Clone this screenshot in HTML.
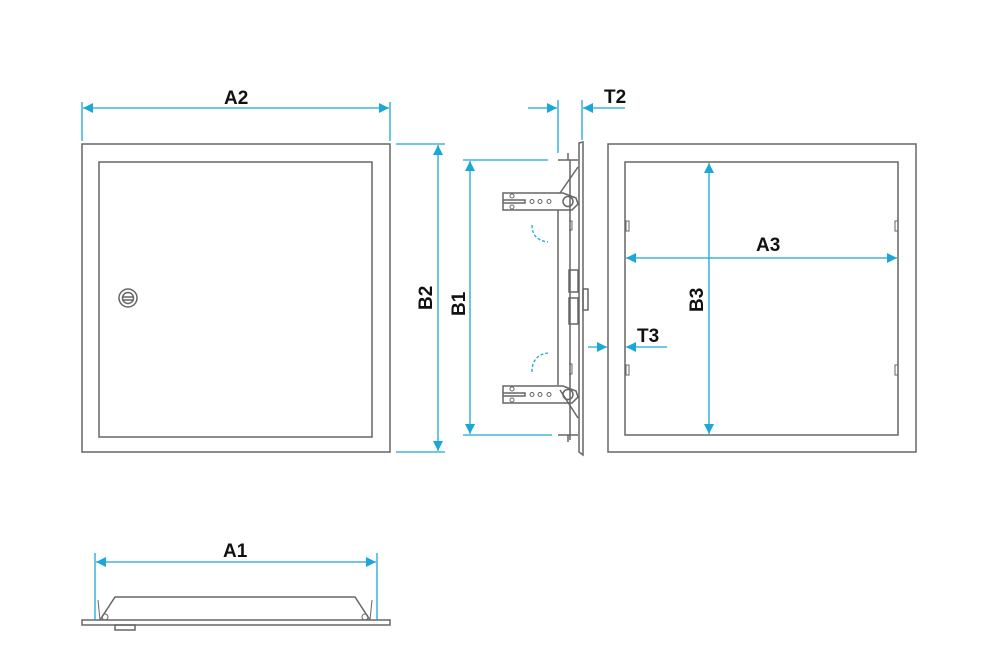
<!DOCTYPE html>
<html><head><style>body{margin:0;background:#fff}svg{display:block}text{font-family:"Liberation Sans",sans-serif;font-weight:bold;font-size:19px;fill:#111}</style></head>
<body>
<svg width="1000" height="668" viewBox="0 0 1000 668" xmlns="http://www.w3.org/2000/svg">
<defs>
<marker id="a" viewBox="0 0 10 10" refX="10" refY="5" markerWidth="16" markerHeight="10" markerUnits="userSpaceOnUse" orient="auto-start-reverse"><path d="M0,0 L10,5 L0,10 z" fill="#1ba8d8"/></marker>
</defs>
<g fill="none" stroke="#666" stroke-width="1.5">
<rect x="82" y="144" width="308" height="308"/>
<rect x="99" y="162" width="273" height="275"/>
<circle cx="128" cy="298" r="9"/><circle cx="128" cy="298" r="5.5"/>
<line x1="123" y1="297" x2="133" y2="297"/><line x1="123" y1="300" x2="133" y2="300"/>
<rect x="608" y="144" width="308" height="308"/>
<rect x="625" y="162" width="273" height="273"/>
<rect x="626" y="221" width="3" height="10" stroke-width="1"/><rect x="626" y="365" width="3" height="10" stroke-width="1"/>
<rect x="895" y="221" width="3" height="10" stroke-width="1"/><rect x="895" y="365" width="3" height="10" stroke-width="1"/>
<path d="M579,143 L583,142 L583,455 L579,452 Z"/>
<line x1="558" y1="210" x2="558" y2="385"/>
<line x1="570" y1="160" x2="570" y2="440"/>
<path d="M558,160 L578,160 M568,153 L568,160 M558,435 L578,435 M568,435 L568,442"/>
<path d="M560,193 L578,167 M560,390 L578,418"/>
<g id="br">
<path d="M503,193 L563,193 L576,198 L578,204 L572,210 L503,210 Z"/>
<path d="M503,200 L525,200 L525,203 L503,203"/>
<circle cx="512" cy="196" r="2" stroke-width="1"/><circle cx="512" cy="207" r="2" stroke-width="1"/>
<circle cx="532" cy="201.5" r="2" stroke-width="1"/><circle cx="540" cy="201.5" r="2" stroke-width="1"/><circle cx="549" cy="201.5" r="2" stroke-width="1"/>
<circle cx="568" cy="201.5" r="5"/>
</g>
<use href="#br" transform="translate(0,193)"/>
<path d="M569,221 L572,221 L572,230 L569,230 M569,364 L572,364 L572,374 L569,374" stroke-width="1"/>
<rect x="569" y="270" width="9" height="22"/><rect x="569" y="298" width="9" height="26"/>
<rect x="583" y="289" width="5" height="21"/>
<path d="M82,620 L390,620 L390,625 L82,625 Z"/>
<rect x="115" y="625" width="20" height="5"/>
<path d="M100,620 L115,597 L355,597 L370,620"/>
<path d="M98,600 L100,620 M372,600 L370,620" stroke-width="1"/>
<circle cx="105" cy="617" r="3" stroke-width="1"/><circle cx="365" cy="617" r="3" stroke-width="1"/>
</g>
<g stroke="#1ba8d8" stroke-width="1.3" fill="none">
<line x1="82" y1="102" x2="82" y2="141"/><line x1="390" y1="102" x2="390" y2="141"/>
<line x1="83" y1="108" x2="389" y2="108" marker-start="url(#a)" marker-end="url(#a)"/>
<line x1="396" y1="144" x2="445" y2="144"/><line x1="396" y1="452" x2="445" y2="452"/>
<line x1="438" y1="145" x2="438" y2="451" marker-start="url(#a)" marker-end="url(#a)"/>
<line x1="463" y1="160" x2="548" y2="160"/><line x1="463" y1="435" x2="552" y2="435"/>
<line x1="470" y1="161" x2="470" y2="434" marker-start="url(#a)" marker-end="url(#a)"/>
<line x1="558" y1="100" x2="558" y2="153"/><line x1="582" y1="100" x2="582" y2="140"/>
<line x1="528" y1="108" x2="557" y2="108" marker-end="url(#a)"/>
<line x1="625" y1="108" x2="583" y2="108" marker-end="url(#a)"/>
<line x1="626" y1="258" x2="897" y2="258" marker-start="url(#a)" marker-end="url(#a)"/>
<line x1="709" y1="163" x2="709" y2="434" marker-start="url(#a)" marker-end="url(#a)"/>
<line x1="588" y1="347" x2="607" y2="347" marker-end="url(#a)"/>
<line x1="667" y1="347" x2="626" y2="347" marker-end="url(#a)"/>
<line x1="95" y1="553" x2="95" y2="620"/><line x1="377" y1="553" x2="377" y2="620"/>
<line x1="96" y1="562" x2="376" y2="562" marker-start="url(#a)" marker-end="url(#a)"/>
<path d="M532,225 Q532,240 548,242" stroke-dasharray="3,2"/>
<path d="M532,372 Q532,355 548,353" stroke-dasharray="3,2"/>
</g>
<text x="224" y="104">A2</text>
<text x="223" y="557">A1</text>
<text x="756" y="251">A3</text>
<text x="604" y="103">T2</text>
<text x="637" y="342">T3</text>
<text transform="translate(432,310) rotate(-90)">B2</text>
<text transform="translate(465,316) rotate(-90)">B1</text>
<text transform="translate(703,312) rotate(-90)">B3</text>
</svg>
</body></html>
